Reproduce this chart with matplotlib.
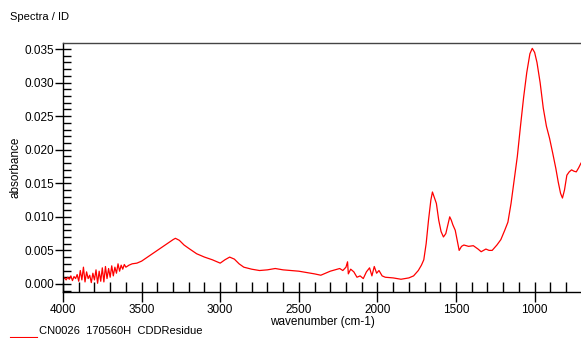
import matplotlib
matplotlib.use("Agg")
import matplotlib.pyplot as plt
from matplotlib.ticker import MultipleLocator
from matplotlib.lines import Line2D

plt.rcParams["font.family"] = ["Liberation Sans", "DejaVu Sans"]

# spectrum (wavenumber in cm-1, absorbance)
wavenumber = [
    4000, 3990, 3980, 3970, 3960, 3950, 3940, 3930, 3920, 3910,
    3900, 3890, 3880, 3870, 3860, 3850, 3840, 3830, 3820, 3810,
    3800, 3790, 3780, 3770, 3760, 3750, 3740, 3730, 3720, 3710,
    3700, 3690, 3680, 3670, 3660, 3650, 3640, 3630, 3620, 3610,
    3600, 3580, 3560, 3530, 3500, 3450, 3400, 3350, 3300, 3285,
    3260, 3230, 3200, 3150, 3100, 3050, 3000, 2970, 2940, 2910,
    2880, 2850, 2800, 2750, 2700, 2650, 2600, 2550, 2500, 2450,
    2400, 2360, 2330, 2300, 2270, 2240, 2220, 2200, 2190, 2185,
    2170, 2150, 2130, 2110, 2090, 2070, 2050, 2035, 2020, 2005,
    1990, 1970, 1950, 1900, 1850, 1800, 1770, 1740, 1720, 1705,
    1690, 1675, 1660, 1650, 1640, 1625, 1610, 1595, 1580, 1565,
    1550, 1540, 1530, 1520, 1505, 1490, 1480, 1465, 1450, 1420,
    1390, 1360, 1340, 1310, 1290, 1270, 1240, 1215, 1190, 1170,
    1150, 1130, 1110, 1090, 1070, 1050, 1030, 1015, 1000, 985,
    965, 945, 925, 905, 885, 865, 850, 835, 823, 810,
    795, 780, 765, 750, 735, 720, 705,
]
absorbance = [
    0.0007, 0.0009, 0.0006, 0.0010, 0.0007, 0.0012, 0.0005, 0.0011, 0.0008, 0.0014,
    0.0004, 0.0020, 0.0006, 0.0025, 0.0003, 0.0018, 0.0008, 0.0013, 0.0002, 0.0016,
    0.0006, 0.0021, 0.0001, 0.0019, 0.0004, 0.0024, 0.0003, 0.0026, 0.0008, 0.0023,
    0.0010, 0.0027, 0.0012, 0.0025, 0.0016, 0.0030, 0.0019, 0.0028, 0.0022, 0.0029,
    0.0025, 0.0028, 0.0030, 0.0031, 0.0034, 0.0042, 0.0050, 0.0058, 0.0066, 0.0068,
    0.0065, 0.0058, 0.0053, 0.0045, 0.0040, 0.0036, 0.0031, 0.0036, 0.0040, 0.0037,
    0.0030, 0.0025, 0.0022, 0.0020, 0.0021, 0.0023, 0.0021, 0.0020, 0.0019, 0.0017,
    0.0015, 0.0013, 0.0016, 0.0019, 0.0021, 0.0023, 0.0020, 0.0025, 0.0033, 0.0015,
    0.0022, 0.0018, 0.0010, 0.0012, 0.0008, 0.0018, 0.0024, 0.0012, 0.0026, 0.0016,
    0.0020, 0.0012, 0.0010, 0.0009, 0.0007, 0.0009, 0.0012, 0.0020, 0.0028, 0.0036,
    0.0060, 0.0095, 0.0125, 0.0137, 0.0130, 0.0120, 0.0095, 0.0078, 0.0070, 0.0075,
    0.0090, 0.0100, 0.0095, 0.0088, 0.0080, 0.0062, 0.0050, 0.0056, 0.0058, 0.0056,
    0.0057, 0.0052, 0.0048, 0.0052, 0.0050, 0.0050, 0.0058, 0.0066, 0.0080, 0.0092,
    0.0120, 0.0155, 0.0190, 0.0235, 0.0278, 0.0315, 0.0343, 0.0351, 0.0345, 0.0330,
    0.0300, 0.0262, 0.0235, 0.0217, 0.0195, 0.0172, 0.0152, 0.0135, 0.0128, 0.0140,
    0.0162, 0.0167, 0.0170, 0.0168, 0.0167, 0.0173, 0.0180,
]

fig = plt.figure(figsize=(5.81, 3.38), dpi=100)
ax = fig.add_axes([63 / 581, 1 - 292 / 338, 1 - 63 / 581, (292 - 43) / 338])

ax.plot(wavenumber, absorbance, color="red", linewidth=0.9)

ax.set_xlim(4000, 705)
ax.set_ylim(-0.0012, 0.0359)
ax.xaxis.set_major_locator(MultipleLocator(500))
ax.xaxis.set_minor_locator(MultipleLocator(100))
ax.yaxis.set_major_locator(MultipleLocator(0.005))
ax.yaxis.set_minor_locator(MultipleLocator(0.001))
ax.yaxis.set_major_formatter(plt.FormatStrFormatter("%.3f"))

ax.tick_params(which="major", direction="inout", length=11, width=1, labelsize=8.5)
ax.tick_params(which="minor", direction="in", length=6, width=1)
ax.tick_params(axis="x", which="major", length=15, pad=1)
ax.tick_params(axis="x", which="minor", length=7)
ax.tick_params(axis="y", which="major", pad=1)

ax.spines["right"].set_visible(False)
for s in ("left", "bottom", "top"):
    ax.spines[s].set_linewidth(1)
ax.spines["top"].set_color("#444444")

ax.set_xlabel("wavenumber (cm-1)", fontsize=8.5, labelpad=0)
ax.set_ylabel("absorbance", fontsize=8.5, labelpad=2)

fig.text(10 / 581, 1 - 17 / 338, "Spectra / ID", fontsize=8, va="center", ha="left")
fig.add_artist(Line2D([10 / 581, 37 / 581], [1 - 337 / 338] * 2, color="red", linewidth=0.8))
fig.text(39 / 581, 1 - 331 / 338, "CN0026  170560H  CDDResidue", fontsize=8, va="center", ha="left")

fig.savefig("out.png", dpi=100)
